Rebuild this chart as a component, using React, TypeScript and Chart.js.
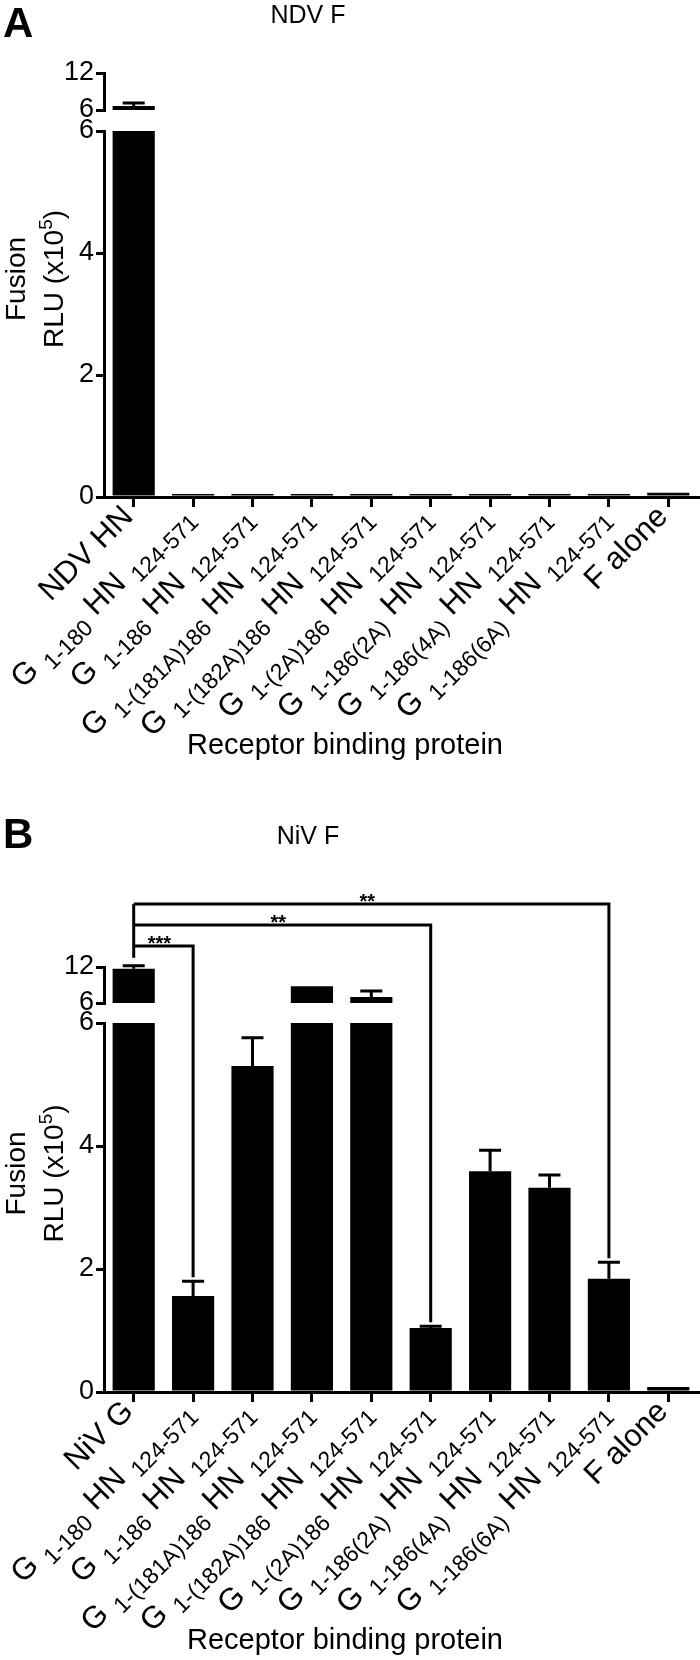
import React, { useEffect, useRef } from 'react';
import { Chart, registerables } from 'chart.js';

Chart.register(...registerables);

const FONT = "'Liberation Sans', Arial, Helvetica, sans-serif";

// ---- data ----
const firstCategoryA = 'NDV HN';
const firstCategoryB = 'NiV G';
const constructG = ['1-180', '1-186', '1-(181A)186', '1-(182A)186', '1-(2A)186', '1-186(2A)', '1-186(4A)', '1-186(6A)'];
const constructHN = '124-571';
const lastCategory = 'F alone';

const categoriesA = [firstCategoryA, ...constructG.map((g) => `G ${g} HN ${constructHN}`), lastCategory];
const categoriesB = [firstCategoryB, ...constructG.map((g) => `G ${g} HN ${constructHN}`), lastCategory];

const valuesA = [6.65, 0.05, 0.05, 0.05, 0.05, 0.05, 0.05, 0.05, 0.05, 0.07];
const errorsA = [0.48, 0, 0, 0, 0, 0, 0, 0, 0, 0];

const valuesB = [11.7, 1.56, 5.3, 8.8, 7.0, 1.04, 3.59, 3.32, 1.84, 0.08];
const errorsB = [0.5, 0.24, 0.46, 0, 1.0, 0.03, 0.34, 0.21, 0.27, 0];

const lowerTickValues = [0, 2, 4, 6];
const upperTickValues = [6, 12];

const bracketFromB = [0, 0, 0];
const bracketToB = [1, 5, 8];
const bracketStarsB = ['***', '**', '**'];

const titleA = 'NDV F';
const titleB = 'NiV F';
const xTitle = 'Receptor binding protein';
const yTitleLine1 = 'Fusion';
const yTitleLine2 = ['RLU (x10', '5', ')'];

// ---- layout ----
type Panel = {
  letter: string;
  title: string;
  categories: string[];
  values: number[];
  errors: number[];
  bracketFrom: number[];
  bracketTo: number[];
  bracketStars: string[];
  height: number;
  plotTop: number;
  plotBottom: number;
  weights: [number, number, number];
  letterBase: number;
  titleBase: number;
};

const panelA: Panel = {
  letter: 'A', title: titleA, categories: categoriesA, values: valuesA, errors: errorsA,
  bracketFrom: [], bracketTo: [], bracketStars: [],
  height: 800, plotTop: 73, plotBottom: 497, weights: [366, 21, 37], letterBase: 37, titleBase: 23,
};
const panelB: Panel = {
  letter: 'B', title: titleB, categories: categoriesB, values: valuesB, errors: errorsB,
  bracketFrom: bracketFromB, bracketTo: bracketToB, bracketStars: bracketStarsB,
  height: 860, plotTop: 167, plotBottom: 592, weights: [369, 20, 36], letterBase: 48, titleBase: 44,
};

const LOWER_MAX = lowerTickValues[lowerTickValues.length - 1];
const UPPER_MIN = upperTickValues[0];

type Part = { text: string; sub: boolean };
function labelParts(label: string): Part[] {
  const m = label.match(/^G (\S+) HN (\S+)$/);
  if (!m) return [{ text: label, sub: false }];
  return [
    { text: 'G', sub: false },
    { text: m[1], sub: true },
    { text: 'HN', sub: false },
    { text: m[2], sub: true },
  ];
}

const BIG = 31;
const SMALL = 23;
const SUB_SHIFT = 8;
const GAP = 10;

function drawXLabel(ctx: CanvasRenderingContext2D, label: string, x: number, y: number) {
  const parts = labelParts(label);
  ctx.save();
  ctx.translate(x, y);
  ctx.rotate(-Math.PI / 4);
  ctx.textAlign = 'left';
  ctx.textBaseline = 'alphabetic';
  let cursor = 0;
  for (let k = parts.length - 1; k >= 0; k--) {
    const p = parts[k];
    ctx.font = `${p.sub ? SMALL : BIG}px ${FONT}`;
    const w = ctx.measureText(p.text).width;
    cursor -= w;
    ctx.fillText(p.text, cursor, p.sub ? SUB_SHIFT : 0);
    if (k > 0) cursor -= GAP;
  }
  ctx.restore();
}

function drawOverlay(chart: any, p: Panel) {
  const ctx: CanvasRenderingContext2D = chart.ctx;
  const xs = chart.scales.x;
  const yl = chart.scales.yLow;
  const yh = chart.scales.yHigh;
  const area = chart.chartArea;
  ctx.save();
  ctx.fillStyle = '#000';
  ctx.strokeStyle = '#000';
  ctx.lineCap = 'butt';

  // error bars
  const capPix = (i: number) => {
    const v = p.values[i];
    const sc = v > UPPER_MIN ? yh : yl;
    return sc.getPixelForValue(v + p.errors[i]);
  };
  p.values.forEach((v, i) => {
    const e = p.errors[i];
    if (!e) return;
    const sc = v > UPPER_MIN ? yh : yl;
    const x = xs.getPixelForValue(i);
    const y0 = sc.getPixelForValue(v);
    const y1 = sc.getPixelForValue(v + e);
    ctx.lineWidth = 3;
    ctx.beginPath();
    ctx.moveTo(x, y0);
    ctx.lineTo(x, y1);
    ctx.moveTo(x - 11, y1);
    ctx.lineTo(x + 11, y1);
    ctx.stroke();
  });

  // significance brackets
  if (p.bracketTo.length) {
    ctx.lineWidth = 3;
    const levels = p.bracketTo.map((_, k) => area.top - 21 * (k + 1));
    const x0 = xs.getPixelForValue(p.bracketFrom[0]);
    ctx.beginPath();
    ctx.moveTo(x0, levels[levels.length - 1]);
    ctx.lineTo(x0, capPix(p.bracketFrom[0]) - 8);
    ctx.stroke();
    p.bracketTo.forEach((to, k) => {
      const xa = xs.getPixelForValue(p.bracketFrom[k]);
      const xb = xs.getPixelForValue(to);
      const y = levels[k];
      ctx.beginPath();
      ctx.moveTo(xa, y);
      ctx.lineTo(xb, y);
      ctx.lineTo(xb, capPix(to) - 4);
      ctx.stroke();
      ctx.font = `bold 20px ${FONT}`;
      ctx.textAlign = 'center';
      ctx.textBaseline = 'alphabetic';
      ctx.fillText(p.bracketStars[k], (xa + xb) / 2 - 4, y + 4);
    });
  }

  // x labels
  p.categories.forEach((c, i) => {
    drawXLabel(ctx, c, xs.getPixelForValue(i) + 1, area.bottom + 21);
  });

  // x title
  ctx.font = `29px ${FONT}`;
  ctx.textAlign = 'center';
  ctx.textBaseline = 'middle';
  ctx.fillText(xTitle, 345, area.bottom + 249);

  // y title
  const cy = (area.top + area.bottom) / 2 - 6;
  ctx.save();
  ctx.translate(17, cy);
  ctx.rotate(-Math.PI / 2);
  ctx.font = `28px ${FONT}`;
  ctx.textAlign = 'center';
  ctx.textBaseline = 'middle';
  ctx.fillText(yTitleLine1, 0, 0);
  ctx.restore();

  ctx.save();
  ctx.translate(55, cy);
  ctx.rotate(-Math.PI / 2);
  ctx.textAlign = 'left';
  ctx.textBaseline = 'middle';
  const supIndex = 1;
  const widths = yTitleLine2.map((t, k) => {
    ctx.font = `${k === supIndex ? 19 : 28}px ${FONT}`;
    return ctx.measureText(t).width;
  });
  let cx = -widths.reduce((a, b) => a + b, 0) / 2;
  yTitleLine2.forEach((t, k) => {
    ctx.font = `${k === supIndex ? 19 : 28}px ${FONT}`;
    ctx.fillText(t, cx, k === supIndex ? -8 : 0);
    cx += widths[k];
  });
  ctx.restore();

  // panel letter and title
  ctx.font = `bold 42px ${FONT}`;
  ctx.textAlign = 'left';
  ctx.textBaseline = 'alphabetic';
  ctx.fillText(p.letter, 3, p.letterBase);
  ctx.font = `25px ${FONT}`;
  ctx.textAlign = 'center';
  ctx.fillText(p.title, 308, p.titleBase);

  ctx.restore();
}

function makeChart(canvas: HTMLCanvasElement, p: Panel) {
  const tickFont = { family: FONT, size: 27 };
  const overlay = {
    id: 'overlay' + p.letter,
    afterDraw(chart: any) {
      drawOverlay(chart, p);
    },
  };
  const lowerStep = lowerTickValues[1] - lowerTickValues[0];
  const upperStep = upperTickValues[1] - upperTickValues[0];
  return new Chart(canvas, {
    type: 'bar',
    data: {
      labels: p.categories,
      datasets: [
        {
          data: p.values.map((v) => Math.min(v, LOWER_MAX)),
          yAxisID: 'yLow',
          backgroundColor: '#000',
          borderWidth: 0,
          grouped: false,
          barPercentage: 0.71,
          categoryPercentage: 1,
        } as any,
        {
          data: p.values.map((v) => (v > UPPER_MIN ? v : null)),
          yAxisID: 'yHigh',
          backgroundColor: '#000',
          borderWidth: 0,
          grouped: false,
          barPercentage: 0.71,
          categoryPercentage: 1,
        } as any,
      ],
    },
    options: {
      responsive: false,
      animation: false,
      devicePixelRatio: 1,
      layout: { padding: { top: p.plotTop, left: 0, right: 2, bottom: 0 }, autoPadding: false },
      plugins: { legend: { display: false }, tooltip: { enabled: false }, title: { display: false } },
      scales: {
        x: {
          type: 'category',
          offset: true,
          grid: { display: true, drawOnChartArea: false, offset: false, color: '#000', lineWidth: 3, tickLength: 10 },
          border: { display: true, color: '#000', width: 3 },
          ticks: { display: false, autoSkip: false },
          afterFit: (s: any) => {
            s.height = p.height - p.plotBottom;
          },
        },
        yLow: {
          type: 'linear',
          position: 'left',
          stack: 'v',
          stackWeight: p.weights[0],
          min: lowerTickValues[0],
          max: LOWER_MAX,
          ticks: { stepSize: lowerStep, font: tickFont, color: '#000', padding: 2, autoSkip: false },
          grid: { display: true, drawOnChartArea: false, color: '#000', lineWidth: 3, tickLength: 8 },
          border: { display: true, color: '#000', width: 3 },
          afterFit: (s: any) => {
            s.width = 104;
          },
        },
        yGap: {
          type: 'linear',
          position: 'left',
          stack: 'v',
          stackWeight: p.weights[1],
          display: false,
          min: 0,
          max: 1,
        },
        yHigh: {
          type: 'linear',
          position: 'left',
          stack: 'v',
          stackWeight: p.weights[2],
          min: UPPER_MIN,
          max: upperTickValues[upperTickValues.length - 1],
          ticks: { stepSize: upperStep, font: tickFont, color: '#000', padding: 2, autoSkip: false },
          grid: { display: true, drawOnChartArea: false, color: '#000', lineWidth: 3, tickLength: 8 },
          border: { display: true, color: '#000', width: 3 },
          afterFit: (s: any) => {
            s.width = 104;
          },
        },
      },
    } as any,
    plugins: [overlay],
  });
}

export default function App() {
  const refA = useRef<HTMLCanvasElement>(null);
  const refB = useRef<HTMLCanvasElement>(null);
  useEffect(() => {
    const a = makeChart(refA.current as HTMLCanvasElement, panelA);
    const b = makeChart(refB.current as HTMLCanvasElement, panelB);
    return () => {
      a.destroy();
      b.destroy();
    };
  }, []);
  return (
    <div style={{ position: 'absolute', left: 0, top: 0, width: 700, height: 1660, background: '#fff' }}>
      <canvas
        ref={refA}
        width={700}
        height={panelA.height}
        style={{ position: 'absolute', left: 0, top: 0, width: 700, height: panelA.height }}
      />
      <canvas
        ref={refB}
        width={700}
        height={panelB.height}
        style={{ position: 'absolute', left: 0, top: panelA.height, width: 700, height: panelB.height }}
      />
    </div>
  );
}
